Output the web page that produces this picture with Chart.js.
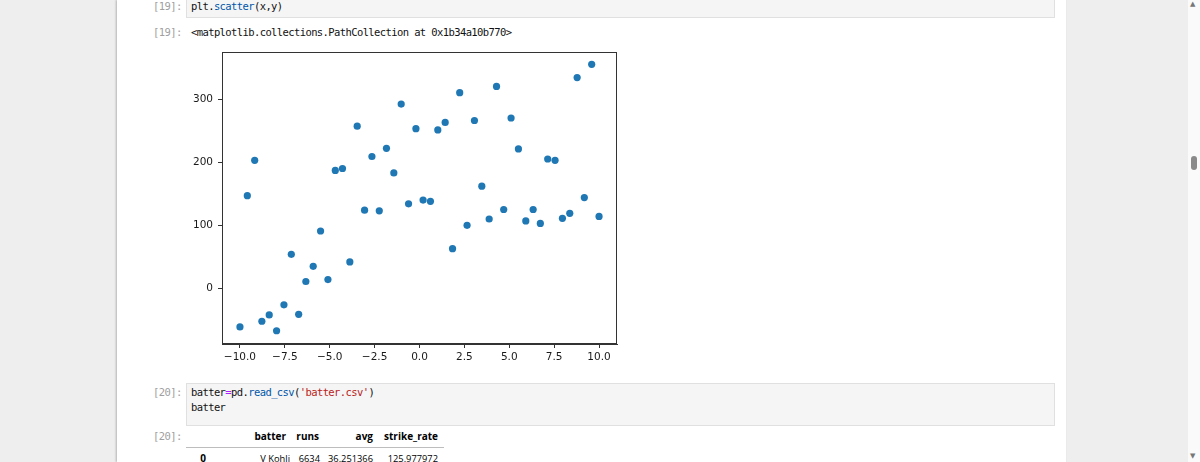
<!DOCTYPE html>
<html>
<head>
<meta charset="utf-8">
<script src="https://cdn.jsdelivr.net/npm/chart.js@4.4.1/dist/chart.umd.min.js"></script>
<style>
  html, body { margin: 0; padding: 0; }
  body { width: 1200px; height: 462px; background: #eeeeee; overflow: hidden; position: relative; font-family: "DejaVu Sans", sans-serif; }
  .panel { position: absolute; left: 117px; top: 0; width: 949px; height: 462px; background: #fff; box-shadow: -1px 0 2px rgba(0,0,0,0.25); }
  .mono { font-family: "DejaVu Sans Mono", monospace; font-size: 10.5px; letter-spacing: -0.6px; white-space: pre; position: absolute; color: #111; }
  .prompt { color: #a0a0a0; left: 153px; }
  .codebox { position: absolute; left: 186px; width: 867px; background: #f5f5f5; border: 1px solid #e0e0e0; }
  .kw { color: #0055aa; }
  .op { color: #aa22ff; }
  .str { color: #ba2121; }
  .scroll { position: absolute; left: 1188px; top: 0; width: 12px; height: 462px; background: #fafafa; }
  .thumb { position: absolute; left: 3px; top: 156px; width: 6px; height: 14px; background: #8a8a8a; border-radius: 3px; }
  .arrow { position: absolute; left: 2px; font-size: 7px; color: #777; }
  #plotwrap { position: absolute; left: 170px; top: 40px; width: 460px; height: 335px; }
  .cell { position: absolute; font-family: "Open Sans", sans-serif; font-size: 9.3px; color: #000; white-space: pre; text-align: right; width: 90px; }
  .hd { font-weight: bold; font-size: 10px; }
  .rule { position: absolute; left: 186px; width: 258px; top: 447px; height: 1px; background: #bdbdbd; }
</style>
</head>
<body>
<div class="panel"></div>

<div class="codebox" style="top:-1px;height:17px;"></div>
<div class="mono prompt" style="top:0px;">[19]:</div>
<div class="mono" style="left:191px;top:0px;">plt.<span class="kw">scatter</span>(x,y)</div>

<div class="mono prompt" style="top:26px;">[19]:</div>
<div class="mono" style="left:191px;top:26px;">&lt;matplotlib.collections.PathCollection at 0x1b34a10b770&gt;</div>

<div id="plotwrap"><canvas id="myChart"></canvas></div>

<div class="codebox" style="top:383px;height:41px;"></div>
<div class="mono prompt" style="top:386px;">[20]:</div>
<div class="mono" style="left:191px;top:386px;">batter<span class="op">=</span>pd.<span class="kw">read_csv</span>(<span class="str">'batter.csv'</span>)</div>
<div class="mono" style="left:191px;top:401px;">batter</div>

<div class="mono prompt" style="top:430px;">[20]:</div>
<div class="cell hd" style="left:196px;top:429px;">batter</div>
<div class="cell hd" style="left:229px;top:429px;">runs</div>
<div class="cell hd" style="left:283px;top:429px;">avg</div>
<div class="cell hd" style="left:348px;top:429px;">strike_rate</div>
<div class="rule"></div>
<div class="cell hd" style="left:116px;top:451px;width:90px;text-align:right;">0</div>
<div class="cell" style="left:200px;top:452px;">V Kohli</div>
<div class="cell" style="left:230px;top:452px;">6634</div>
<div class="cell" style="left:283px;top:452px;">36.251366</div>
<div class="cell" style="left:348px;top:452px;">125.977972</div>

<div class="scroll">
  <div class="arrow" style="top:0px;">&#9650;</div>
  <div class="thumb"></div>
  <div class="arrow" style="top:452px;">&#9660;</div>
</div>

<script>
// x = values along the horizontal axis, y = what got plotted against them
var xValues = [-10.00, -9.59, -9.18, -8.78, -8.37, -7.96, -7.55, -7.14, -6.73, -6.33,
               -5.92, -5.51, -5.10, -4.69, -4.29, -3.88, -3.47, -3.06, -2.65, -2.24,
               -1.84, -1.43, -1.02, -0.61, -0.20, 0.20, 0.61, 1.02, 1.43, 1.84,
               2.24, 2.65, 3.06, 3.47, 3.88, 4.29, 4.69, 5.10, 5.51, 5.92,
               6.33, 6.73, 7.14, 7.55, 7.96, 8.37, 8.78, 9.18, 9.59, 10.00];
var yValues = [-61, 147, 203, -52, -42, -67, -26, 54, -41, 11,
               35, 91, 14, 187, 190, 42, 257, 124, 209, 123,
               222, 183, 292, 134, 253, 140, 138, 251, 263, 63,
               310, 100, 266, 162, 110, 320, 125, 270, 221, 107,
               125, 103, 205, 203, 111, 119, 334, 144, 355, 114];
var xTicks = [-10, -7.5, -5, -2.5, 0, 2.5, 5, 7.5, 10];
var yTicks = [0, 100, 200, 300];

var points = xValues.map((v, i) => ({ x: v, y: yValues[i] }));

// matplotlib draws a box all round the axes
const frame = {
  id: 'frame',
  afterDatasetsDraw(chart) {
    const a = chart.chartArea;
    const ctx = chart.ctx;
    ctx.save();
    ctx.strokeStyle = '#333';
    ctx.lineWidth = 1;
    ctx.strokeRect(Math.round(a.left) + 0.5, Math.round(a.top) + 0.5,
                   Math.round(a.right - a.left) - 1, Math.round(a.bottom - a.top) - 1);
    ctx.restore();
  }
};

const tickFont = { family: 'DejaVu Sans', size: 10.5 };

new Chart("myChart", {
  type: "scatter",
  data: {
    datasets: [{
      data: points,
      backgroundColor: "#1f77b4",
      borderWidth: 0,
      pointRadius: 3.6,
      pointHoverRadius: 3.6
    }]
  },
  options: {
    responsive: true,
    maintainAspectRatio: false,
    animation: false,
    events: [],
    layout: { padding: { top: 12, right: 13, left: 0, bottom: 0 } },
    plugins: { legend: { display: false }, tooltip: { enabled: false } },
    scales: {
      x: {
        type: 'linear',
        min: -11, max: 11,
        afterBuildTicks: (s) => { s.ticks = xTicks.map(v => ({ value: v })) },
        afterFit: (s) => { s.height = 31 },
        ticks: {
          font: tickFont, color: '#1a1a1a', padding: 3, maxRotation: 0, autoSkip: false,
          callback: (v) => (v < 0 ? '\u2212' : '') + Math.abs(v).toFixed(1)
        },
        grid: { drawOnChartArea: false, drawTicks: true, tickLength: 4, color: '#333', lineWidth: 1 },
        border: { display: true, color: '#333', width: 1 }
      },
      y: {
        type: 'linear',
        min: -88, max: 374.5,
        afterBuildTicks: (s) => { s.ticks = yTicks.map(v => ({ value: v })) },
        afterFit: (s) => { s.width = 52 },
        ticks: {
          font: tickFont, color: '#1a1a1a', padding: 5, autoSkip: false,
          callback: (v) => String(v)
        },
        grid: { drawOnChartArea: false, drawTicks: true, tickLength: 4, color: '#333', lineWidth: 1 },
        border: { display: true, color: '#333', width: 1 }
      }
    }
  },
  plugins: [frame]
});
</script>
</body>
</html>
